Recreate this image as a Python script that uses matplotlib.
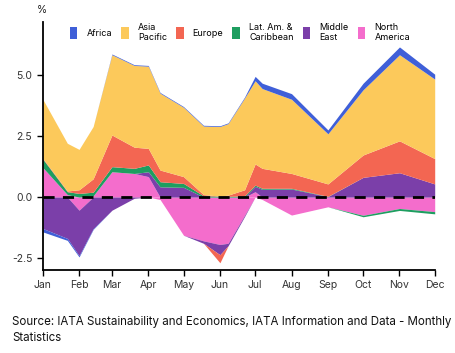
import numpy as np
import matplotlib
matplotlib.use("Agg")
import matplotlib.pyplot as plt
from matplotlib.patches import Patch

plt.rcParams['font.family'] = ['Inter', 'DejaVu Sans']

# day of year of each data point
days = [0, 21, 31, 43, 59, 78, 90, 100, 120, 137, 151, 158, 172, 181, 187, 212, 243, 273, 304, 334]

# contribution to growth (%), by region
north_america = [1.22, 0.10, -0.54, 0.05, 1.04, 0.97, 0.84, -0.10, -1.57, -1.80, -1.95, -1.90, -0.75, 0.22, -0.10, -0.74, -0.40, -0.75, -0.47, -0.60]
middle_east = [-1.29, -1.70, -1.87, -1.30, -0.54, -0.05, 0.20, 0.42, 0.40, -0.10, -0.42, -0.10, -0.05, 0.22, 0.32, 0.33, 0.02, 0.81, 1.00, 0.54]
lat_am = [0.35, 0.12, 0.15, 0.15, 0.21, 0.21, 0.28, 0.21, 0.16, 0.05, 0.04, 0.03, 0.05, 0.05, 0.04, 0.03, 0.01, -0.06, -0.08, -0.09]
europe = [0.03, 0.03, 0.15, 0.55, 1.30, 0.87, 0.68, 0.48, 0.28, 0.05, -0.33, 0.05, 0.25, 0.87, 0.82, 0.61, 0.51, 0.92, 1.31, 1.04]
asia_pacific = [2.43, 1.96, 1.66, 2.15, 3.30, 3.36, 3.38, 3.16, 2.85, 2.82, 2.86, 2.94, 3.77, 3.42, 3.28, 3.05, 2.06, 2.68, 3.54, 3.27]
africa = [-0.14, -0.08, -0.05, -0.03, 0.03, 0.03, 0.03, 0.03, 0.03, 0.03, 0.03, 0.03, 0.04, 0.18, 0.22, 0.23, 0.16, 0.27, 0.32, 0.20]

regions = ["Africa", "Asia\nPacific", "Europe", "Lat. Am. &\nCaribbean", "Middle\nEast", "North\nAmerica"]
colors = ["#3f5fd8", "#fcc95b", "#f36652", "#1e9e60", "#7b3fa9", "#f46dcc"]

month_days = [0, 31, 59, 90, 120, 151, 181, 212, 243, 273, 304, 334]
month_labels = ["Jan", "Feb", "Mar", "Apr", "May", "Jun", "Jul", "Aug", "Sep", "Oct", "Nov", "Dec"]

fig = plt.figure(figsize=(4.56, 3.53), dpi=100)
ax = fig.add_axes([0.0936, 0.235, 0.8597, 0.703])

x = np.array(days)
# stacking order from zero outward
stack = [north_america, middle_east, lat_am, europe, asia_pacific, africa]
stack_colors = [colors[5], colors[4], colors[3], colors[2], colors[1], colors[0]]

pos_base = np.zeros(len(x))
neg_base = np.zeros(len(x))
for vals, c in zip(stack, stack_colors):
    v = np.array(vals)
    pos = np.clip(v, 0, None)
    neg = np.clip(v, None, 0)
    ax.fill_between(x, pos_base, pos_base + pos, color=c, lw=0)
    ax.fill_between(x, neg_base, neg_base + neg, color=c, lw=0)
    pos_base = pos_base + pos
    neg_base = neg_base + neg

ax.axhline(0, color="black", lw=2, ls=(0, (4, 3)))

ax.set_xlim(0, 334)
ax.set_ylim(-3.0, 7.2)
ax.set_xticks(month_days)
ax.set_xticklabels(month_labels)
ax.set_yticks([-2.5, 0, 2.5, 5.0])
ax.set_yticklabels(["-2.5", "0.0", "2.5", "5.0"])
ax.tick_params(labelsize=7.5, colors="#333333", length=4, width=1)
ax.tick_params(axis="both", color="black")
for s in ["top", "right"]:
    ax.spines[s].set_visible(False)
for s in ["left", "bottom"]:
    ax.spines[s].set_linewidth(1.3)

fig.text(0.081, 0.985, "%", fontsize=7.5, color="#222222", va="top")

handles = [Patch(facecolor=c, edgecolor="none") for c in colors]
fig.legend(handles, regions, ncol=6, loc="upper left", bbox_to_anchor=(0.153, 0.935),
           frameon=False, fontsize=6.5, handlelength=0.85, handleheight=1.75,
           handletextpad=1.0, columnspacing=1.0, labelspacing=0.2,
           borderpad=0, borderaxespad=0)

fig.text(0.026, 0.025, "Source: IATA Sustainability and Economics, IATA Information and Data - Monthly\nStatistics",
         fontsize=8.3, color="#111111", va="bottom", linespacing=1.45)

plt.savefig("out.png", dpi=100)
